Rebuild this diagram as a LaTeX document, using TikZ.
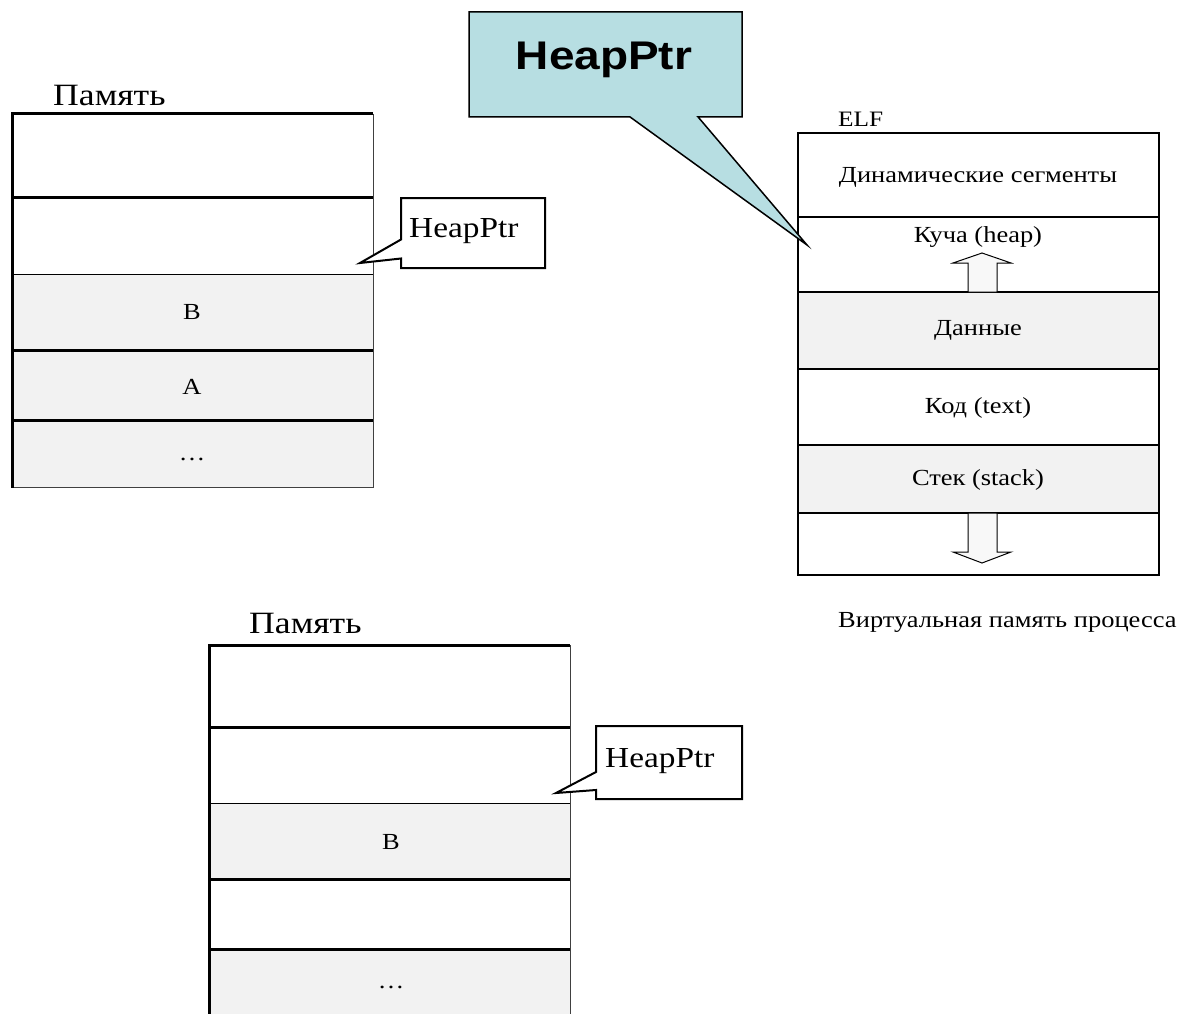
\documentclass[tikz,border=0pt]{standalone}
\usepackage{fontspec}
\setmainfont{Liberation Serif}[FakeStretch=1.15]
\newfontfamily\calloutfont{Liberation Sans}[FakeStretch=1.15]
\usetikzlibrary{shapes.callouts}

\definecolor{cellfill}{HTML}{F2F2F2}
\definecolor{calloutblue}{HTML}{B7DEE2}
\definecolor{arrowfill}{HTML}{F8F8F8}

\tikzset{
  heavyrule/.style={line width=3pt},
  lightrule/.style={line width=1pt},
  elfrule/.style={line width=2pt},
  graycell/.style={fill=cellfill},
  memtitle/.style={inner sep=0pt, anchor=base west, font=\fontsize{31}{37}\selectfont},
  celltext/.style={inner sep=0pt, font=\fontsize{23}{27}\selectfont},
  elftext/.style={inner sep=0pt, font=\fontsize{23}{27}\selectfont},
  ptrtext/.style={inner sep=0pt, anchor=base west, font=\fontsize{29}{34}\selectfont},
  ptrbox/.style={rectangle callout, draw, line width=2pt, fill=white, inner sep=0pt},
  growarrow/.style={draw, line width=1pt, fill=arrowfill, line join=miter},
}

\begin{document}
\begin{tikzpicture}[x=1pt, y=-1pt]
\path[use as bounding box] (0,0) rectangle (1183,1014);

% ---------- upper memory column ----------
\fill[graycell] (12,274) rectangle (373,487);
\draw[lightrule, black!75] (373,114) -- (373,487) -- (12,487);
\draw[lightrule] (12,274) -- (373,274);
\draw[heavyrule] (373,114) -- (12,114) -- (12,488);
\foreach \yy in {197,350,420} \draw[heavyrule] (12,\yy) -- (373,\yy);
\node[memtitle] (memA) at (53,106) {Память};
\node[celltext] (cellB1) at (192,312) {B};
\node[celltext] (cellA1) at (192,387) {A};
\node[celltext] (cellD1) at (192,459) {…};

\node[ptrbox, minimum width=144pt, minimum height=70pt,
      callout absolute pointer={(360,263)}, callout pointer width=19pt]
      (ptrA) at (473,233) {};
\node[ptrtext] (ptrAtext) at (409,237) {HeapPtr};

% ---------- lower memory column ----------
\fill[graycell] (209,803) rectangle (570,879);
\fill[graycell] (209,949) rectangle (570,1014);
\draw[lightrule, black!75] (570,645) -- (570,1014);
\draw[lightrule] (209,803) -- (570,803);
\draw[heavyrule] (570,645) -- (209,645) -- (209,1014);
\foreach \yy in {727,879,949} \draw[heavyrule] (209,\yy) -- (570,\yy);
\node[memtitle] (memB) at (249,633) {Память};
\node[celltext] (cellB2) at (391,842) {B};
\node[celltext] (cellD2) at (391,987) {…};

\node[ptrbox, minimum width=146pt, minimum height=73pt,
      callout absolute pointer={(556,793)}, callout pointer width=18pt]
      (ptrB) at (669,762.5) {};
\node[ptrtext] (ptrBtext) at (605,767) {HeapPtr};

% ---------- process virtual memory (ELF) ----------
\fill[graycell] (798,292) rectangle (1159,369);
\fill[graycell] (798,445) rectangle (1159,513);
\draw[elfrule] (798,133) rectangle (1159,575);
\foreach \yy in {217,292,369,445,513} \draw[elfrule] (798,\yy) -- (1159,\yy);

\node[elftext, anchor=base west, font=\fontsize{22}{26}\selectfont] (elf) at (838,127) {ELF};
\node[elftext] (dyn) at (978,177) {Динамические сегменты};
\node[elftext, anchor=base] (heap) at (978,242) {Куча (heap)};
\node[elftext] (data) at (978,330) {Данные};
\node[elftext] (code) at (978,408) {Код (text)};
\node[elftext] (stack) at (978,480) {Стек (stack)};
\node[elftext, anchor=base west] (vmcap) at (838,627) {Виртуальная память процесса};

% heap grows up, stack grows down
\draw[growarrow] (968,292) -- (968,263) -- (953,263) -- (982,253) -- (1011,263)
  -- (997,263) -- (997,292) -- cycle;
\draw[growarrow] (968,513) -- (968,552) -- (953,552) -- (982,563) -- (1011,552)
  -- (997,552) -- (997,513) -- cycle;

% ---------- big pointer callout ----------
\node[rectangle callout, draw, line width=1.5pt, fill=calloutblue, inner sep=0pt,
      minimum width=273pt, minimum height=105pt,
      callout absolute pointer={(807,245)}, callout pointer width=68pt]
      (bigptr) at (605.5,64.5) {};
\node[inner sep=0pt, anchor=base, font=\calloutfont\bfseries\fontsize{40}{47}\selectfont]
      (bigptrtext) at (604,70) {HeapPtr};
\end{tikzpicture}
\end{document}
